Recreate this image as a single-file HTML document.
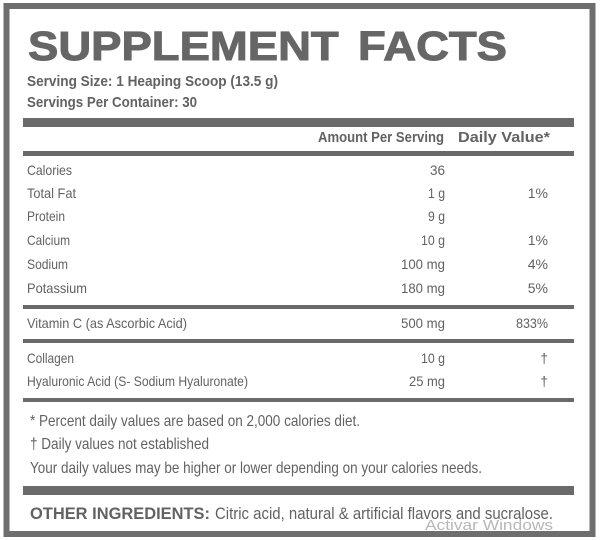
<!DOCTYPE html>
<html><head><meta charset="utf-8"><style>html,body{margin:0;padding:0;background:#fff}svg{display:block}</style></head>
<body>
<svg width="600" height="540" viewBox="0 0 600 540" xmlns="http://www.w3.org/2000/svg" font-family="'Liberation Sans', sans-serif" fill="#626262">
<rect x="6.5" y="6" width="586" height="528" fill="none" stroke="#6e6e6e" stroke-width="6"/>
<text x="28" y="60" font-size="41" font-weight="bold" textLength="479" lengthAdjust="spacingAndGlyphs" fill="#666" stroke="#666" stroke-width="1" word-spacing="6">SUPPLEMENT  FACTS</text>
<text x="27" y="86" font-size="15" font-weight="bold" textLength="251" lengthAdjust="spacingAndGlyphs">Serving Size:  1 Heaping Scoop (13.5 g)</text>
<text x="27" y="107" font-size="15" font-weight="bold" textLength="170" lengthAdjust="spacingAndGlyphs">Servings Per Container: 30</text>
<rect x="23" y="118" width="551" height="9" fill="#6a6a6a"/>
<text x="318" y="142" font-size="15" font-weight="bold" textLength="126" lengthAdjust="spacingAndGlyphs">Amount Per Serving</text>
<text x="458" y="142" font-size="15" font-weight="bold" textLength="92" lengthAdjust="spacingAndGlyphs">Daily Value*</text>
<rect x="23" y="151" width="551" height="5" fill="#6a6a6a"/>
<g font-size="14">
<text x="27" y="175" textLength="45" lengthAdjust="spacingAndGlyphs">Calories</text>
<text x="27" y="198" textLength="49" lengthAdjust="spacingAndGlyphs">Total Fat</text>
<text x="27" y="221" textLength="38" lengthAdjust="spacingAndGlyphs">Protein</text>
<text x="27" y="245" textLength="43" lengthAdjust="spacingAndGlyphs">Calcium</text>
<text x="27" y="269" textLength="41" lengthAdjust="spacingAndGlyphs">Sodium</text>
<text x="27" y="293" textLength="60" lengthAdjust="spacingAndGlyphs">Potassium</text>
<text x="27" y="328" textLength="160" lengthAdjust="spacingAndGlyphs">Vitamin C (as Ascorbic Acid)</text>
<text x="27" y="363" textLength="47" lengthAdjust="spacingAndGlyphs">Collagen</text>
<text x="27" y="386" textLength="221" lengthAdjust="spacingAndGlyphs">Hyaluronic Acid (S- Sodium Hyaluronate)</text>
<g text-anchor="end">
<text x="445" y="175" textLength="15" lengthAdjust="spacingAndGlyphs">36</text>
<text x="445" y="198" textLength="17" lengthAdjust="spacingAndGlyphs">1 g</text>
<text x="445" y="221" textLength="17" lengthAdjust="spacingAndGlyphs">9 g</text>
<text x="445" y="245" textLength="24" lengthAdjust="spacingAndGlyphs">10 g</text>
<text x="445" y="269" textLength="44" lengthAdjust="spacingAndGlyphs">100 mg</text>
<text x="445" y="293" textLength="44" lengthAdjust="spacingAndGlyphs">180 mg</text>
<text x="445" y="328" textLength="44" lengthAdjust="spacingAndGlyphs">500 mg</text>
<text x="445" y="363" textLength="24" lengthAdjust="spacingAndGlyphs">10 g</text>
<text x="445" y="386" textLength="36" lengthAdjust="spacingAndGlyphs">25 mg</text>
<text x="548" y="198">1%</text>
<text x="548" y="245">1%</text>
<text x="548" y="269">4%</text>
<text x="548" y="293">5%</text>
<text x="548" y="328" textLength="32" lengthAdjust="spacingAndGlyphs">833%</text>
<text x="548" y="363">†</text>
<text x="548" y="386">†</text>
</g>
</g>
<rect x="23" y="305" width="551" height="4" fill="#6a6a6a"/>
<rect x="23" y="339" width="551" height="4" fill="#6a6a6a"/>
<rect x="23" y="398" width="551" height="4" fill="#6a6a6a"/>
<g font-size="16">
<text x="30" y="426" textLength="330" lengthAdjust="spacingAndGlyphs">* Percent daily values are based on 2,000 calories diet.</text>
<text x="30" y="449" textLength="179" lengthAdjust="spacingAndGlyphs">† Daily values not established</text>
<text x="30" y="473" textLength="452" lengthAdjust="spacingAndGlyphs">Your daily values may be higher or lower depending on your calories needs.</text>
</g>
<rect x="23" y="486" width="551" height="9" fill="#6a6a6a"/>
<text x="30" y="519" font-size="17" font-weight="bold" textLength="180" lengthAdjust="spacingAndGlyphs">OTHER INGREDIENTS:</text>
<text x="215" y="519" font-size="17" textLength="338" lengthAdjust="spacingAndGlyphs">Citric acid, natural &amp; artificial flavors and sucralose.</text>
<text x="425" y="530" font-size="15" fill="#b8b8b8" textLength="128" lengthAdjust="spacingAndGlyphs">Activar Windows</text>
</svg>
</body></html>
